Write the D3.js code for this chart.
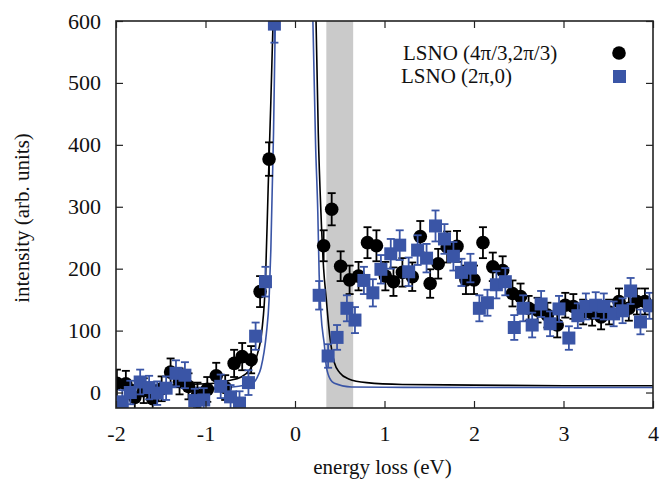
<!DOCTYPE html>
<html>
<head>
<meta charset="utf-8">
<script src="https://cdn.jsdelivr.net/npm/d3@7"></script>
<style>
  body { margin: 0; background: #fff; }
  svg text { font-family: "Liberation Serif", "Times New Roman", serif; }
</style>
</head>
<body>
<div id="chart"></div>
<script>
// tick labels
var xTicks = [-2, -1, 0, 1, 2, 3, 4];
var yTicks = [0, 100, 200, 300, 400, 500, 600];

// LSNO (4pi/3,2pi/3) - black circles
var blackX = [-1.99,-1.89,-1.79,-1.69,-1.59,-1.49,-1.39,-1.29,-1.19,-1.09,-0.98,-0.88,-0.78,-0.68,-0.59,-0.49,-0.39,-0.29,
  0.32,0.41,0.51,0.61,0.71,0.81,0.91,1.01,1.10,1.20,1.31,1.40,1.51,1.60,1.70,1.81,1.91,2.00,2.10,2.21,2.32,2.43,2.52,2.61,2.71,2.82,2.93,
  3.02,3.11,3.22,3.32,3.42,3.51,3.62,3.73,3.82,3.91];
var blackY = [15,14,-8,3,-10,6,33,18,10,-4,5,27,8,47,58,53,163,377,
  237,296,204,182,188,242,237,188,179,194,187,252,176,208,235,236,182,182,242,203,197,160,155,136,133,125,109,
  141,139,130,128,122,130,147,136,147,147];
var blackErr = [22,21,20,20,20,20,22,21,21,20,20,21,20,22,22,22,25,27,
  25,26,24,23,23,25,25,23,23,23,23,25,23,24,25,25,23,23,25,23,23,21,21,20,20,20,20,
  20,20,20,20,20,20,21,20,21,21];

// LSNO (2pi,0) - blue squares
var blueX = [-1.93,-1.84,-1.73,-1.63,-1.54,-1.44,-1.33,-1.23,-1.12,-1.02,-0.83,-0.72,-0.62,-0.52,-0.44,-0.33,-0.23,
  0.27,0.37,0.47,0.58,0.67,0.77,0.87,0.96,1.07,1.17,1.27,1.37,1.47,1.57,1.67,1.77,1.86,1.96,2.06,2.15,2.25,2.35,2.45,2.55,2.65,2.75,2.85,2.95,
  3.06,3.16,3.25,3.36,3.45,3.56,3.66,3.75,3.86,3.96];
var blueY = [-15,0,17,8,-1,7,31,28,-13,-12,10,-7,-17,16,91,179,595,
  157,59,89,136,117,181,161,199,224,238,195,230,217,269,248,220,194,201,136,145,174,179,105,136,109,143,111,135,
  88,124,139,141,139,127,132,164,114,140];
var blueErr = [19,19,20,19,19,19,21,21,19,19,19,19,19,20,22,24,30,
  23,19,20,21,21,22,22,23,24,24,23,24,23,25,24,23,22,23,21,21,22,22,20,21,20,21,20,21,
  19,20,21,21,21,20,20,21,20,21];

// fitted curves (left and right flank of the elastic line)
var blackFitLX = [-2, -1.5, -1.2, -0.9, -0.75, -0.6, -0.5, -0.42, -0.37, -0.33, -0.30, -0.27, -0.245];
var blackFitLY = [12, 12, 13, 15, 19, 25, 38, 62, 100, 180, 330, 470, 600];
var blackFitRX = [0.235, 0.26, 0.29, 0.32, 0.35, 0.37, 0.40, 0.44, 0.5, 0.6, 0.8, 1.2, 2, 3, 4];
var blackFitRY = [600, 420, 290, 200, 150, 117, 78, 48, 32, 22, 16, 13, 12, 11, 11];
var blueFitLX = [-2, -1.5, -1, -0.7, -0.55, -0.47, -0.42, -0.38, -0.32, -0.29, -0.27, -0.24, -0.22];
var blueFitLY = [8, 8, 8, 9, 12, 15, 25, 40, 95, 149, 230, 419, 600];
var blueFitRX = [0.2, 0.23, 0.255, 0.27, 0.29, 0.33, 0.35, 0.40, 0.44, 0.63, 1, 2, 4];
var blueFitRY = [600, 400, 290, 190, 128, 74, 42, 20, 15, 9, 8.5, 8, 8];

// shaded energy window
var bandX = [0.35, 0.65];

var legendLabels = ["LSNO (4\u03c0/3,2\u03c0/3)", "LSNO (2\u03c0,0)"];

var blue = "#3a55a6";
var serif = '"Liberation Serif", "Times New Roman", serif';

document.addEventListener('DOMContentLoaded', function () {
  drawChart();
});

function drawChart() {
  var width = 660, height = 479;
  var left = 116, right = 653, top = 21, bottom = 408;

  var svg = d3.select("#chart").append("svg").attr("width", width).attr("height", height);

  var x = d3.scaleLinear().domain([-2, 4]).range([left, right]);
  var y = d3.scaleLinear().domain([-25, 600]).range([bottom, top]);

  svg.append("clipPath").attr("id", "clip").append("rect")
    .attr("x", left).attr("y", top).attr("width", right - left).attr("height", bottom - top);

  // gray band
  svg.append("rect").attr("x", x(bandX[0])).attr("y", top)
    .attr("width", x(bandX[1]) - x(bandX[0])).attr("height", bottom - top)
    .style("fill", "#cacaca");

  // fit curves
  var line = d3.line().x(function (d) { return x(d[0]); }).y(function (d) { return y(d[1]); }).curve(d3.curveMonotoneX);
  var curves = [
    [d3.zip(blackFitLX, blackFitLY), "#000"],
    [d3.zip(blackFitRX, blackFitRY), "#000"],
    [d3.zip(blueFitLX, blueFitLY), blue],
    [d3.zip(blueFitRX, blueFitRY), blue]
  ];
  var cg = svg.append("g").attr("clip-path", "url(#clip)");
  curves.forEach(function (c) {
    cg.append("path").datum(c[0]).attr("d", line)
      .style("fill", "none").style("stroke", c[1]).style("stroke-width", 1.6);
  });

  // error bars + markers
  var pg = svg.append("g").attr("clip-path", "url(#clip)");
  function errBars(xs, ys, es, col) {
    var data = d3.range(xs.length).map(function (i) { return { x: xs[i], y: ys[i], e: es[i] }; });
    var g = pg.append("g").style("stroke", col).style("stroke-width", 1.8);
    g.selectAll("line.v").data(data).enter().append("line")
      .attr("x1", function (d) { return x(d.x); }).attr("x2", function (d) { return x(d.x); })
      .attr("y1", function (d) { return y(d.y - d.e); }).attr("y2", function (d) { return y(d.y + d.e); });
    g.selectAll("line.t").data(data).enter().append("line")
      .attr("x1", function (d) { return x(d.x) - 4; }).attr("x2", function (d) { return x(d.x) + 4; })
      .attr("y1", function (d) { return y(d.y + d.e); }).attr("y2", function (d) { return y(d.y + d.e); });
    g.selectAll("line.b").data(data).enter().append("line")
      .attr("x1", function (d) { return x(d.x) - 4; }).attr("x2", function (d) { return x(d.x) + 4; })
      .attr("y1", function (d) { return y(d.y - d.e); }).attr("y2", function (d) { return y(d.y - d.e); });
    return data;
  }

  var bd = errBars(blackX, blackY, blackErr, "#000");
  pg.selectAll("circle.black").data(bd).enter().append("circle")
    .attr("cx", function (d) { return x(d.x); }).attr("cy", function (d) { return y(d.y); })
    .attr("r", 6.8).style("fill", "#000");

  var ud = errBars(blueX, blueY, blueErr, blue);
  pg.selectAll("rect.blue").data(ud).enter().append("rect")
    .attr("x", function (d) { return x(d.x) - 6.5; }).attr("y", function (d) { return y(d.y) - 6.5; })
    .attr("width", 13).attr("height", 13).style("fill", blue);

  // axes (ticks inward on all four sides)
  var plain = function (d) { return String(d); };
  var ax = svg.append("g").attr("transform", "translate(0," + bottom + ")")
    .call(d3.axisBottom(x).tickValues(xTicks).tickSize(-7).tickPadding(17).tickFormat(plain));
  var axT = svg.append("g").attr("transform", "translate(0," + top + ")")
    .call(d3.axisTop(x).tickValues(xTicks).tickSize(-7).tickFormat(""));
  var ay = svg.append("g").attr("transform", "translate(" + left + ",0)")
    .call(d3.axisLeft(y).tickValues(yTicks).tickSize(-7).tickPadding(15).tickFormat(plain));
  var ayR = svg.append("g").attr("transform", "translate(" + right + ",0)")
    .call(d3.axisRight(y).tickValues(yTicks).tickSize(-7).tickFormat(""));
  [ax, axT, ay, ayR].forEach(function (a) {
    a.attr("font-family", serif).attr("font-size", 22);
    a.select(".domain").remove();
    a.selectAll("line").style("stroke", "#222").style("stroke-width", 1.2);
    a.selectAll("text").attr("fill", "#111");
  });

  // frame
  svg.append("rect").attr("x", left).attr("y", top).attr("width", right - left).attr("height", bottom - top)
    .style("fill", "none").style("stroke", "#222").style("stroke-width", 1.6);

  // axis labels
  svg.append("text").text("energy loss (eV)").attr("x", (left + right) / 2 - 2).attr("y", 474)
    .style("text-anchor", "middle").style("font-size", "21px").style("fill", "#111");
  svg.append("text").text("intensity (arb. units)").attr("transform", "rotate(-90)")
    .attr("x", -218).attr("y", 29).style("text-anchor", "middle").style("font-size", "21px").style("fill", "#111");

  // legend
  svg.append("text").text(legendLabels[0]).attr("x", 403).attr("y", 60).style("font-size", "21px").style("fill", "#111");
  svg.append("text").text(legendLabels[1]).attr("x", 401).attr("y", 83).style("font-size", "21px").style("fill", "#111");
  svg.append("circle").attr("cx", 619).attr("cy", 53).attr("r", 6.8).style("fill", "#000");
  svg.append("rect").attr("x", 613).attr("y", 70).attr("width", 13).attr("height", 13).style("fill", blue);
}
</script>
</body>
</html>
